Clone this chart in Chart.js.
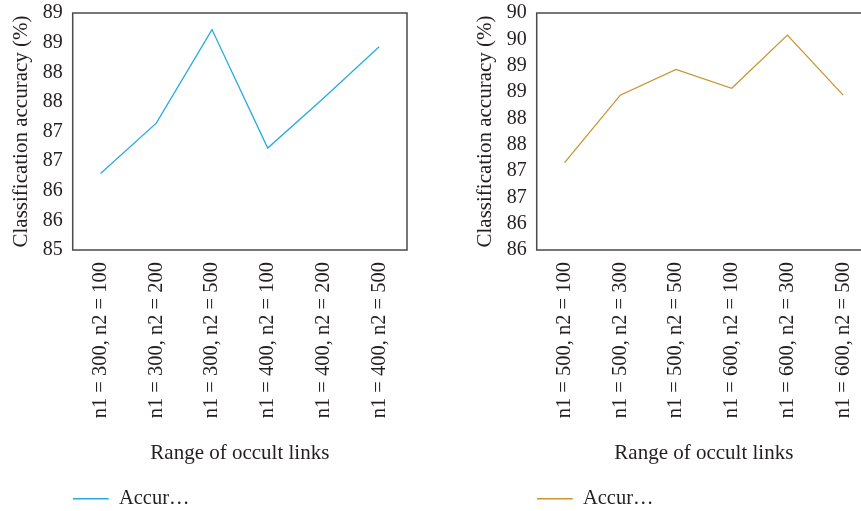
<!DOCTYPE html>
<html>
<head>
<meta charset="utf-8">
<script src="https://cdn.jsdelivr.net/npm/chart.js@4.4.1/dist/chart.umd.min.js"></script>
<style>
  html, body { margin: 0; padding: 0; background: #fff; overflow: hidden; }
  #wrap { position: relative; width: 861px; height: 511px; overflow: hidden; }
  .panel { position: absolute; top: 0; width: 464px; height: 511px; }
  #p1 { left: 0; }
  #p2 { left: 464px; }
</style>
</head>
<body>
<div id="wrap">
  <div class="panel" id="p1"><canvas id="c1" width="464" height="511"></canvas></div>
  <div class="panel" id="p2"><canvas id="c2" width="464" height="511"></canvas></div>
</div>
<script>
// left panel
const leftLabels = ['n1 = 300, n2 = 100', 'n1 = 300, n2 = 200', 'n1 = 300, n2 = 500',
                    'n1 = 400, n2 = 100', 'n1 = 400, n2 = 200', 'n1 = 400, n2 = 500'];
const leftValues = [86.29, 87.14, 88.72, 86.72, 87.56, 88.43];
const leftRange = [85, 89];

// right panel
const rightLabels = ['n1 = 500, n2 = 100', 'n1 = 500, n2 = 300', 'n1 = 500, n2 = 500',
                     'n1 = 600, n2 = 100', 'n1 = 600, n2 = 300', 'n1 = 600, n2 = 500'];
const rightValues = [87.16, 88.44, 88.93, 88.57, 89.58, 88.44];
const rightRange = [85.5, 90];

const seriesName = 'Accur…';
const FONT = "'Liberation Serif', 'Times New Roman', serif";
const TEXT = '#231f20';

// box around the plot area
const framePlugin = {
  id: 'frame',
  afterDraw(chart) {
    const { ctx, chartArea: a } = chart;
    ctx.save();
    ctx.strokeStyle = '#4a4a4a';
    ctx.lineWidth = 1.5;
    ctx.strokeRect(a.left, a.top, a.right - a.left, a.bottom - a.top);
    ctx.restore();
  }
};

function makeChart(id, labels, values, range, color) {
  return new Chart(document.getElementById(id), {
    type: 'line',
    data: {
      labels,
      datasets: [{
        label: seriesName,
        data: values,
        borderColor: color,
        backgroundColor: color,
        borderWidth: 1.3,
        pointRadius: 0,
        tension: 0,
        fill: false
      }]
    },
    options: {
      responsive: false,
      animation: false,
      layout: { padding: { left: 0, right: 57, top: 13, bottom: 2 } },
      plugins: {
        legend: {
          position: 'bottom',
          align: 'start',
          fullSize: false,
          maxHeight: 20.5,
          labels: {
            usePointStyle: true,
            pointStyle: 'line',
            pointStyleWidth: 36,
            padding: 0,
            color: TEXT,
            font: { family: FONT, size: 20.5 }
          }
        },
        tooltip: { enabled: false }
      },
      scales: {
        x: {
          offset: true,
          grid: { display: false, drawTicks: false },
          border: { display: false },
          ticks: {
            maxRotation: 90, minRotation: 90, padding: 12,
            color: TEXT, font: { family: FONT, size: 20.5 }
          },
          title: {
            display: true, text: 'Range of occult links', color: TEXT,
            font: { family: FONT, size: 21 }, padding: { top: 0, bottom: 22 }
          },
          afterFit(s) { s.height = 238.5; s.paddingLeft = 0; s.paddingRight = 0; }
        },
        y: {
          min: range[0], max: range[1],
          grid: { display: false, drawTicks: false },
          border: { display: false },
          ticks: {
            stepSize: 0.5, padding: 10, autoSkip: false, color: TEXT,
            font: { family: FONT, size: 20 },
            callback: v => Math.round(v)
          },
          title: {
            display: true, text: 'Classification accuracy (%)', color: TEXT,
            font: { family: FONT, size: 21 }, padding: { top: 9, bottom: 0 }
          },
          afterFit(s) { s.width = 72.7; s.paddingTop = 0; s.paddingBottom = 0; }
        }
      }
    },
    plugins: [framePlugin]
  });
}

makeChart('c1', leftLabels, leftValues, leftRange, '#29abe2');
makeChart('c2', rightLabels, rightValues, rightRange, '#c8952f');
</script>
</body>
</html>
